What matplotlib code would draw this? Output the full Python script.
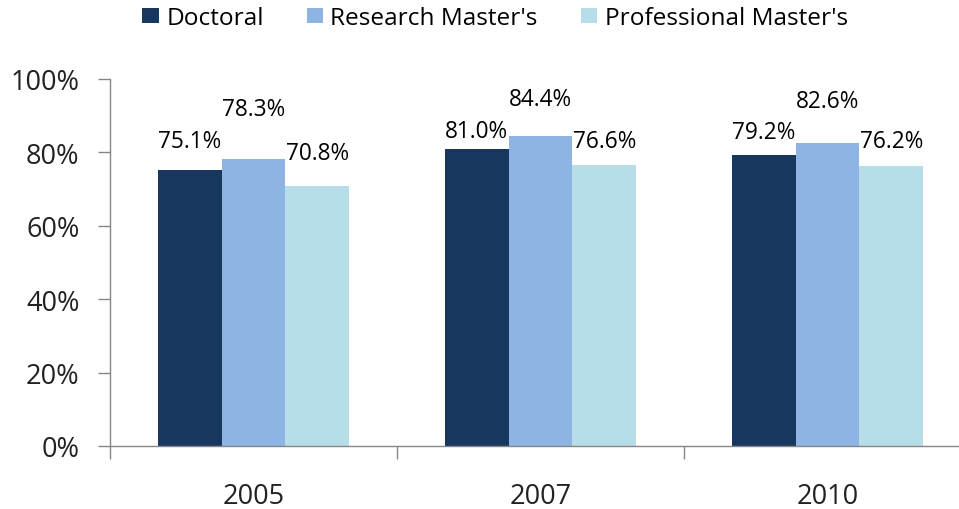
import matplotlib
matplotlib.use("Agg")
import matplotlib.pyplot as plt
import numpy as np
from matplotlib.ticker import FixedLocator, NullFormatter

years = ["2005", "2007", "2010"]
series_names = ["Doctoral", "Research Master's", "Professional Master's"]
doctoral = [75.1, 81.0, 79.2]
research = [78.3, 84.4, 82.6]
professional = [70.8, 76.6, 76.2]
colors = ["#17375E", "#8DB4E2", "#B7DEE8"]
# label offsets above bar tops (points), mimicking hand-placed labels
label_offsets = [[21, 13, 17], [36, 27, 30], [24, 17, 18]]

plt.rcParams['font.family'] = ['Open Sans', 'DejaVu Sans']
fig = plt.figure(figsize=(9.59, 5.10), dpi=100)
ax = fig.add_axes([110/959, (510-447)/510, (971-110)/959, (447-80)/510])

x = np.arange(len(years))
w = 0.222
data = [doctoral, research, professional]
bars = []
for i, (vals, c, name) in enumerate(zip(data, colors, series_names)):
    b = ax.bar(x + (i - 1) * w, vals, w, color=c, label=name, zorder=2)
    bars.append(b)
    for j, (xi, v) in enumerate(zip(x + (i - 1) * w, vals)):
        ax.annotate(f"{v:.1f}%", (xi, v), xytext=(0, label_offsets[i][j]),
                    textcoords="offset points", ha="center", va="center",
                    fontsize=16.3, color="#000000")

ax.set_xlim(-0.5, 2.5)
ax.set_ylim(0, 100)
ax.set_yticks(np.arange(0, 101, 20))
ax.set_yticklabels([f"{t}%" for t in range(0, 101, 20)], fontsize=19.5, color="#222222")
ax.set_xticks(x)
ax.set_xticklabels(years, fontsize=19.5, color="#222222")
ax.tick_params(axis="x", which="major", length=0, pad=26)
ax.xaxis.set_minor_locator(FixedLocator([-0.5, 0.5, 1.5, 2.5]))
ax.xaxis.set_minor_formatter(NullFormatter())
ax.tick_params(axis="x", which="minor", length=9, color="#868686", width=1)
ax.tick_params(axis="y", length=9, color="#868686", width=1, pad=13)
for s in ["top", "right"]:
    ax.spines[s].set_visible(False)
for s in ["left", "bottom"]:
    ax.spines[s].set_color("#868686")
    ax.spines[s].set_linewidth(1)

leg = fig.legend(handles=bars, labels=series_names, loc="center", ncol=3,
                 bbox_to_anchor=(495/959, 1 - 19/510), frameon=False,
                 fontsize=17.6, handlelength=0.68, handleheight=0.58,
                 columnspacing=1.75, handletextpad=0.3)

fig.savefig("out.png", dpi=100)
